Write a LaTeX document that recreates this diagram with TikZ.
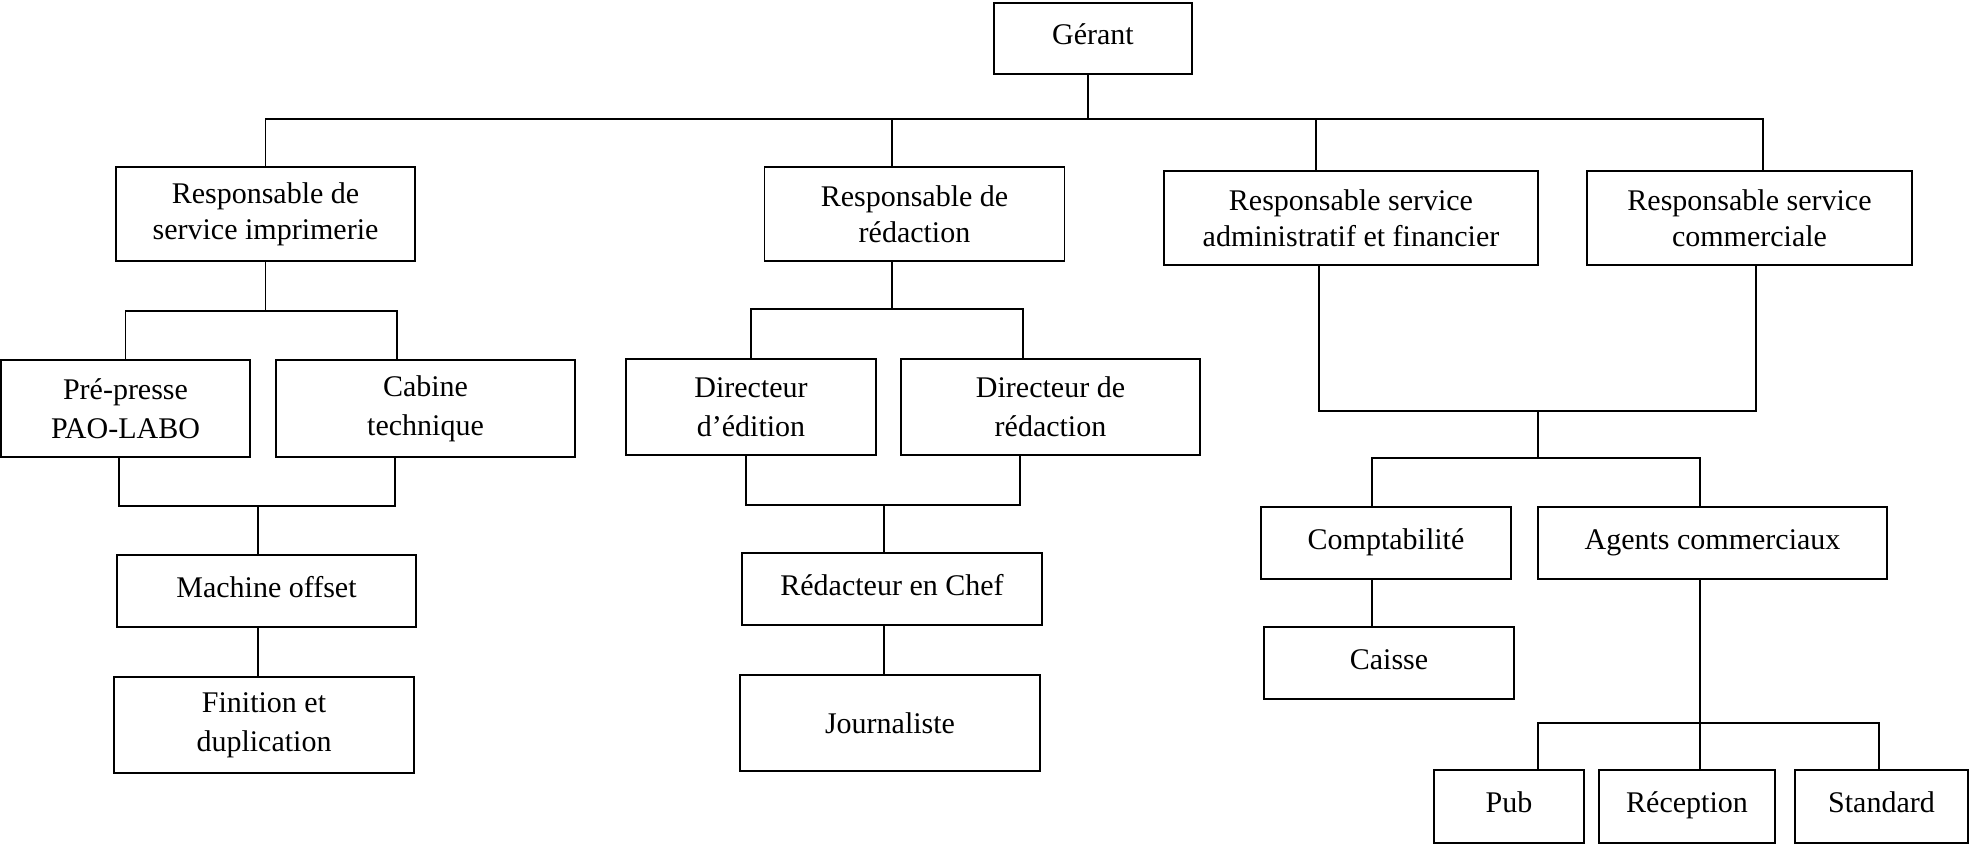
\documentclass[tikz,border=0pt]{standalone}
\usepackage{fontspec}
\setmainfont{Liberation Serif}
\begin{document}
\begin{tikzpicture}[x=0.75pt,y=0.75pt,yscale=-1,xscale=1,
    box/.style={draw, line width=1.1pt, align=center, inner sep=0pt, font=\fontsize{22.5}{27}\selectfont},
    one/.style={text height=15pt, text depth=6pt},
    tall/.style={font=\fontsize{22.5}{29}\selectfont},
    link/.style={line width=1pt}]
    \useasboundingbox (0,0) rectangle (1970,844);
    % Top
    \node[box, one, minimum width=148.5pt, minimum height=53.25pt] (gerant) at (1093,38.5) {G\'erant};
    % Level 1
    \node[box, minimum width=224.25pt, minimum height=70.5pt] (rimp) at (265.5,214) {Responsable de\\service imprimerie};
    \node[box, minimum width=225pt, minimum height=70.5pt] (rred) at (914.5,214) {Responsable de\\r\'edaction};
    \node[box, minimum width=280.5pt, minimum height=70.5pt] (radm) at (1351,218) {Responsable service\\administratif et financier};
    \node[box, minimum width=243.75pt, minimum height=70.5pt] (rcom) at (1749.5,218) {Responsable service\\commerciale};
    % Imprimerie
    \node[box, tall, minimum width=186.75pt, minimum height=72.75pt] (ppre) at (125.5,408.5) {Pr\'e-presse\\PAO-LABO};
    \node[box, tall, minimum width=224.25pt, minimum height=72.75pt] (cab) at (425.5,408.5) {Cabine\\technique};
    \node[box, one, minimum width=224.25pt, minimum height=54pt] (mach) at (266.5,591) {Machine offset};
    \node[box, tall, minimum width=225pt, minimum height=72pt] (fin) at (264,725) {Finition et\\duplication};
    % Redaction
    \node[box, tall, minimum width=187.5pt, minimum height=72pt] (dedi) at (751,407) {Directeur\\d’\'edition};
    \node[box, tall, minimum width=224.25pt, minimum height=72pt] (dred) at (1050.5,407) {Directeur de\\r\'edaction};
    \node[box, one, minimum width=225pt, minimum height=54pt] (rchef) at (892,589) {R\'edacteur en Chef};
    \node[box, minimum width=225pt, minimum height=72pt] (journ) at (890,723) {Journaliste};
    % Admin et commercial
    \node[box, one, minimum width=187.5pt, minimum height=54pt] (compta) at (1386,543) {Comptabilit\'e};
    \node[box, one, minimum width=261.75pt, minimum height=54pt] (agents) at (1712.5,543) {Agents commerciaux};
    \node[box, one, minimum width=187.5pt, minimum height=54pt] (caisse) at (1389,663) {Caisse};
    \node[box, one, minimum width=112.5pt, minimum height=54.75pt] (pub) at (1509,806.5) {Pub};
    \node[box, one, minimum width=132pt, minimum height=54.75pt] (recep) at (1687,806.5) {R\'eception};
    \node[box, one, minimum width=129.75pt, minimum height=54.75pt] (stand) at (1881.5,806.5) {Standard};

    % Links top
    \coordinate (g0) at (1088,119);
    \coordinate (g1) at (892,119);
    \coordinate (g2) at (1316,119);
    \coordinate (g3) at (1763,119);
    \draw[link] (g0 |- gerant.south) -- (g0);
    \draw[link] (rimp.north) |- (g3) -- (g3 |- rcom.north);
    \draw[link] (g1) -- (g1 |- rred.north);
    \draw[link] (g2) -- (g2 |- radm.north);
    % Links imprimerie
    \coordinate (i1) at (397,311);
    \coordinate (i2) at (119,506);
    \coordinate (i3) at (395,506);
    \coordinate (i4) at (258,506);
    \draw[link] (rimp) -- (rimp |- i1);
    \draw[link] (ppre.north) |- (i1) -- (i1 |- cab.north);
    \draw[link] (i2 |- ppre.south) -- (i2) -- (i3) -- (i3 |- cab.south);
    \draw[link] (i4) -- (i4 |- mach.north);
    \draw[link] (i4 |- mach.south) -- (i4 |- fin.north);
    % Links redaction
    \coordinate (r0) at (892,309);
    \coordinate (r1) at (1023,309);
    \coordinate (r2) at (746,505);
    \coordinate (r3) at (1020,505);
    \coordinate (r4) at (884,505);
    \draw[link] (r0 |- rred.south) -- (r0);
    \draw[link] (dedi.north) |- (r1) -- (r1 |- dred.north);
    \draw[link] (r2 |- dedi.south) -- (r2) -- (r3) -- (r3 |- dred.south);
    \draw[link] (r4) -- (r4 |- rchef.north);
    \draw[link] (r4 |- rchef.south) -- (r4 |- journ.north);
    % Links admin / commercial
    \coordinate (a1) at (1319,411);
    \coordinate (a2) at (1756,411);
    \coordinate (a3) at (1538,411);
    \coordinate (a4) at (1538,458);
    \coordinate (a5) at (1372,458);
    \coordinate (a6) at (1700,458);
    \coordinate (a7) at (1538,723);
    \coordinate (a8) at (1879,723);
    \draw[link] (a1 |- radm.south) -- (a1) -- (a2) -- (a2 |- rcom.south);
    \draw[link] (a3) -- (a4);
    \draw[link] (a5 |- compta.north) -- (a5) -- (a6) -- (a6 |- agents.north);
    \draw[link] (a5 |- compta.south) -- (a5 |- caisse.north);
    \draw[link] (a6 |- agents.south) -- (a6 |- recep.north);
    \draw[link] (a7 |- pub.north) -- (a7) -- (a8) -- (a8 |- stand.north);
\end{tikzpicture}
\end{document}
